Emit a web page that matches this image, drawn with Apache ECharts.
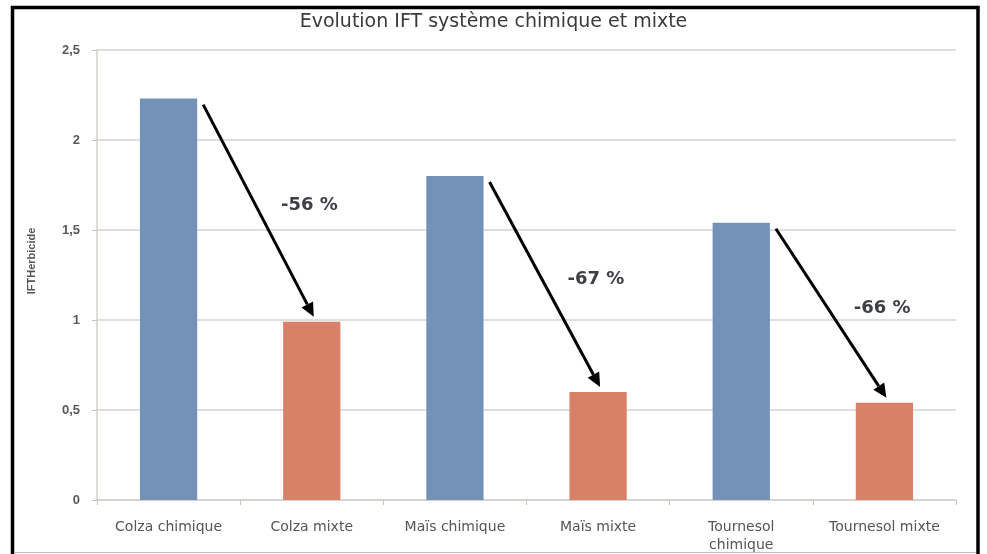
<!DOCTYPE html>
<html>
<head>
<meta charset="utf-8">
<script src="https://cdn.jsdelivr.net/npm/echarts@6/dist/echarts.min.js"></script>
<style>
  html, body { margin: 0; padding: 0; background: #fff; }
  #chart { width: 987px; height: 554px; }
</style>
</head>
<body>
<div id="chart"></div>
<script>
var categories = ['Colza chimique', 'Colza mixte', 'Maïs chimique', 'Maïs mixte', 'Tournesol\nchimique', 'Tournesol mixte'];
var values = [2.23, 0.99, 1.80, 0.60, 1.54, 0.54];
var barColors = ['#7491b7', '#d98068', '#7491b7', '#d98068', '#7491b7', '#d98068'];
// arrows go from the "chimique" bar to the "mixte" bar next to it
var arrowPairs = [[0, 1], [2, 3], [4, 5]];
var arrowLabels = ['-56 %', '-67 %', '-66 %'];
var yTicks = ['0', '0,5', '1', '1,5', '2', '2,5'];

var font = 'Liberation Sans';
var wide = 'DejaVu Sans';
var chart = echarts.init(document.getElementById('chart'));

chart.setOption({
  animation: false,
  title: {
    text: 'Evolution IFT système chimique et mixte',
    left: 'center',
    top: 8,
    textStyle: { fontFamily: wide, fontSize: 19, fontWeight: 'normal', color: '#3a3a3a' }
  },
  grid: { left: 97, right: 31, top: 50, bottom: 52 },
  xAxis: {
    type: 'category',
    data: categories,
    axisLine: { lineStyle: { color: '#d4cfca', width: 1.5 } },
    axisTick: { show: true, length: 5, lineStyle: { color: '#c8c3be' } },
    axisLabel: {
      interval: 0, margin: 18, lineHeight: 18,
      fontFamily: wide, fontSize: 14, color: '#555'
    }
  },
  yAxis: {
    type: 'value',
    min: 0, max: 2.5, interval: 0.5,
    name: 'IFTHerbicide',
    nameLocation: 'middle',
    nameGap: 60,
    nameTextStyle: { fontFamily: font, fontSize: 11, fontWeight: 'bold', color: '#555', padding: [0, 0, 0, 28] },
    axisLine: { show: true, lineStyle: { color: '#d4cfca', width: 1.5 } },
    axisTick: { show: true, length: 5, lineStyle: { color: '#c8c3be' } },
    splitLine: { lineStyle: { color: '#d9d4cf', width: 1.5 } },
    axisLabel: {
      margin: 17, fontFamily: font, fontSize: 13, fontWeight: 'bold', color: '#595959',
      formatter: function (v) { return yTicks[Math.round(v / 0.5)]; }
    }
  },
  series: [{
    type: 'bar',
    barWidth: '40%',
    data: values.map(function (v, i) {
      return { value: v, itemStyle: { color: barColors[i] } };
    })
  }]
});

function drawArrows() {
  var els = [{
    type: 'rect',
    shape: { x: 12.5, y: 7.5, width: 965.5, height: 560 },
    style: { fill: null, stroke: '#000', lineWidth: 3.5 },
    z: 100
  }, {
    type: 'line',
    shape: { x1: 14, y1: 552.5, x2: 976, y2: 552.5 },
    style: { stroke: '#bbb', lineWidth: 1 },
    z: 100
  }];
  var step = chart.convertToPixel({ seriesIndex: 0 }, [1, 0])[0] - chart.convertToPixel({ seriesIndex: 0 }, [0, 0])[0];
  var barHalf = step * 0.4 / 2;
  arrowPairs.forEach(function (p, k) {
    var a = chart.convertToPixel({ seriesIndex: 0 }, [p[0], values[p[0]]]);
    var b = chart.convertToPixel({ seriesIndex: 0 }, [p[1], values[p[1]]]);
    var x1 = a[0] + barHalf + 6, y1 = a[1] + 6;
    var x2 = b[0] + 2, y2 = b[1] - 5;
    var ang = Math.atan2(y2 - y1, x2 - x1);
    var L = 14, W = 6.5;
    var bx = x2 - L * Math.cos(ang), by = y2 - L * Math.sin(ang);
    els.push({
      type: 'line',
      shape: { x1: x1, y1: y1, x2: bx, y2: by },
      style: { stroke: '#000', lineWidth: 3 },
      z: 50
    });
    els.push({
      type: 'polygon',
      shape: { points: [[x2, y2],
        [bx + W * Math.sin(ang), by - W * Math.cos(ang)],
        [bx - W * Math.sin(ang), by + W * Math.cos(ang)]] },
      style: { fill: '#000' },
      z: 50
    });
    els.push({
      type: 'text',
      x: (x1 + x2) / 2 + 51,
      y: (y1 + y2) / 2 - 5,
      style: {
        text: arrowLabels[k], fontFamily: wide, fontSize: 18, fontWeight: 'bold',
        fill: '#3d3f45', align: 'center', verticalAlign: 'middle'
      },
      z: 50
    });
  });
  chart.setOption({ graphic: { elements: els } });
}
drawArrows();
</script>
</body>
</html>
